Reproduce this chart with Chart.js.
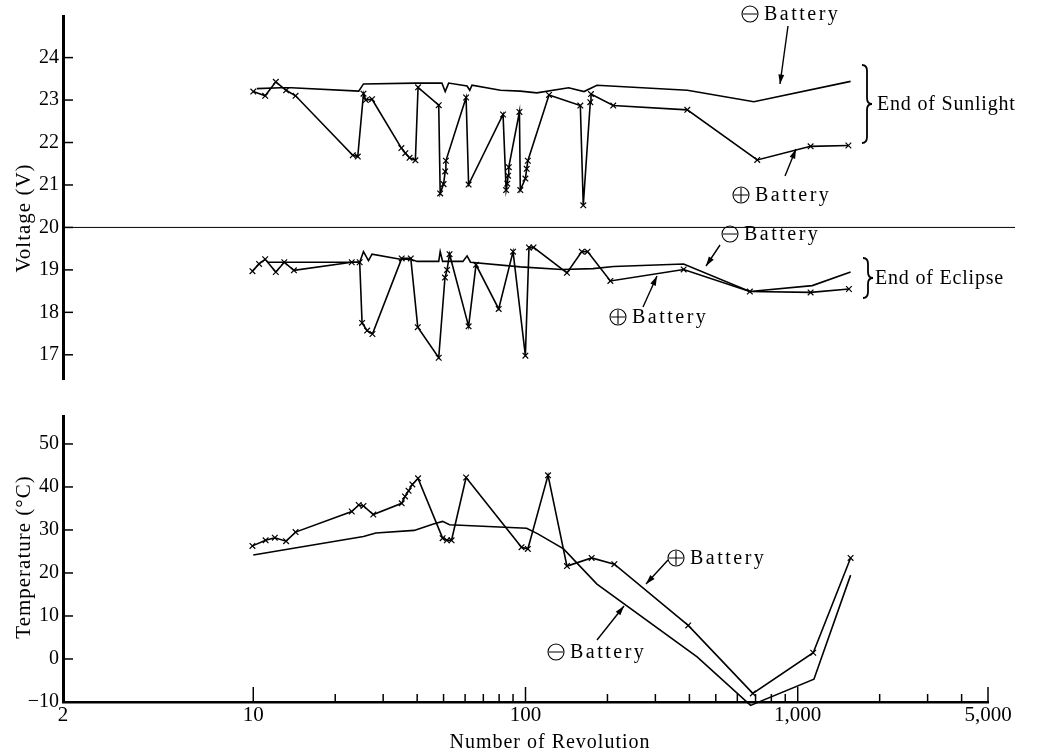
<!DOCTYPE html>
<html>
<head>
<meta charset="utf-8">
<script src="https://cdn.jsdelivr.net/npm/chart.js@4.4.1/dist/chart.umd.min.js"></script>
<style>
  body { margin: 0; background: #fff; }
  #wrap { position: relative; width: 1048px; height: 756px; }
  canvas { position: absolute; left: 0; }
  #top { top: 0; }
  #bot { top: 400px; }
</style>
</head>
<body>
<div id="wrap">
  <canvas id="top" width="1048" height="400"></canvas>
  <canvas id="bot" width="1048" height="356"></canvas>
</div>
<script>
// x axis (number of revolution, log)
const revTicks = [2, 10, 20, 30, 40, 50, 60, 70, 80, 90, 100, 200, 300, 400, 500, 600, 700, 800, 900, 1000, 2000, 3000, 4000, 5000];
const revMajor = [10, 100, 1000, 5000];
const revLabeled = [2, 10, 100, 1000, 5000];
const revLabelText = ['2', '10', '100', '1,000', '5,000'];
const voltTicks = [17, 18, 19, 20, 21, 22, 23, 24];
const tempTicks = [-10, 0, 10, 20, 30, 40, 50];

// End of Sunlight, (-) battery
const sunMinusRev = [10.3, 12.6, 13.8, 24.4, 25.4, 39.4, 49.3, 50.7, 52.2, 61, 62.4, 63.6, 80.9, 95.7, 110, 144, 164, 183, 393, 690, 1564];
const sunMinusVolt = [23.27, 23.29, 23.29, 23.21, 23.38, 23.40, 23.40, 23.20, 23.40, 23.33, 23.23, 23.35, 23.23, 23.21, 23.17, 23.29, 23.20, 23.35, 23.23, 22.96, 23.44];
// End of Sunlight, (+) battery
const sunPlusRev = [10.0, 11.06, 12.1, 13.2, 14.3, 23.2, 24.2, 25.4, 25.9, 27.3, 35.0, 36.2, 37.5, 39.4, 40.3, 48.0, 48.6, 50.0, 50.7, 51.0, 60.5, 61.8, 82.7, 84.9, 85.7, 86.3, 86.8, 95.0, 95.7, 99.9, 101, 102, 122, 159, 163, 173, 174, 210, 393, 710, 1115, 1535];
const sunPlusVolt = [23.20, 23.10, 23.43, 23.23, 23.10, 21.70, 21.67, 23.15, 23.00, 23.02, 21.87, 21.75, 21.64, 21.58, 23.30, 22.88, 20.80, 21.02, 21.32, 21.57, 23.06, 21.01, 22.66, 20.88, 21.03, 21.22, 21.42, 22.72, 20.88, 21.15, 21.38, 21.57, 23.12, 22.87, 20.52, 22.95, 23.14, 22.87, 22.77, 21.59, 21.91, 21.93];

// End of Eclipse, (-) battery
const eclMinusRev = [11.3, 23.0, 24.6, 25.4, 26.5, 27.3, 34.7, 37.9, 40.0, 48.0, 48.6, 49.6, 58.9, 61.0, 62.8, 95.7, 136, 177, 211, 381, 667, 1131, 1564];
const eclMinusVolt = [19.18, 19.18, 19.18, 19.43, 19.22, 19.37, 19.25, 19.25, 19.20, 19.20, 19.43, 19.20, 19.20, 19.33, 19.18, 19.07, 19.01, 19.03, 19.08, 19.14, 18.49, 18.63, 18.95];
// End of Eclipse, (+) battery
const eclPlusRev = [9.93, 10.5, 11.06, 12.1, 13.0, 14.1, 23.0, 24.6, 25.1, 26.2, 27.4, 35.1, 37.9, 40.2, 48.0, 50.6, 51.5, 52.6, 61.8, 65.8, 79.7, 90.0, 99.9, 103, 107, 142, 161, 169, 205, 381, 667, 1115, 1542];
const eclPlusVolt = [18.97, 19.14, 19.25, 18.95, 19.18, 18.99, 19.18, 19.18, 17.75, 17.57, 17.49, 19.27, 19.27, 17.65, 16.93, 18.82, 19.00, 19.37, 17.67, 19.12, 18.08, 19.43, 16.98, 19.53, 19.53, 18.93, 19.43, 19.43, 18.74, 19.01, 18.49, 18.47, 18.55];

// Temperature
const tempMinusRev = [10, 25.4, 28.2, 39.0, 45.9, 49.6, 52.6, 101, 111, 138, 183, 427, 671, 1147, 1564];
const tempMinusVal = [24.2, 28.5, 29.3, 29.9, 31.4, 32.0, 31.2, 30.4, 29.1, 25.6, 17.4, 0.5, -10.8, -4.7, 19.5];
const tempPlusRev = [9.93, 11.1, 12.0, 13.2, 14.3, 23.0, 24.4, 25.4, 27.6, 35.1, 36.1, 37.2, 38.4, 40.3, 49.6, 51.4, 53.5, 60.5, 96.7, 102, 121, 142, 175, 212, 396, 684, 1140, 1564];
const tempPlusVal = [26.3, 27.6, 28.2, 27.4, 29.5, 34.3, 35.8, 35.6, 33.6, 36.2, 37.8, 39.1, 40.6, 42.0, 28.1, 27.6, 27.6, 42.2, 26.0, 25.6, 42.7, 21.6, 23.5, 22.05, 7.8, -8.0, 1.45, 23.5];

const pts = (xs, ys) => xs.map((x, i) => ({ x: x, y: ys[i] }));
const serif = '"Liberation Serif", "DejaVu Serif", serif';

function lineSet(data, marks) {
    return {
        data: data,
        borderColor: '#000',
        borderWidth: 1.6,
        pointStyle: 'crossRot',
        pointRadius: marks ? 4 : 0,
        pointBorderColor: '#000',
        pointBorderWidth: 1.2,
        tension: 0,
        fill: false,
        clip: false
    };
}

// circled plus / minus sign in front of "Battery"
function drawSign(ctx, x, y, plus) {
    const r = 8;
    ctx.save();
    ctx.lineWidth = 1.1;
    ctx.beginPath();
    ctx.arc(x + r, y, r, 0, Math.PI * 2);
    ctx.moveTo(x + 1, y);
    ctx.lineTo(x + 2 * r - 1, y);
    if (plus) {
        ctx.moveTo(x + r, y - r + 1);
        ctx.lineTo(x + r, y + r - 1);
    }
    ctx.stroke();
    ctx.restore();
}

// inner tick marks, extra lines and the hand-drawn notes
const notesPlugin = {
    id: 'notes',
    afterDraw(chart, args, opts) {
        const ctx = chart.ctx;
        const ys = chart.scales.y;
        const xs = chart.scales.x;
        ctx.save();
        ctx.strokeStyle = '#000';
        ctx.fillStyle = '#000';
        ctx.lineWidth = 1.5;
        ys.ticks.forEach(t => {
            const py = ys.getPixelForValue(t.value);
            ctx.beginPath();
            ctx.moveTo(ys.right, py);
            ctx.lineTo(ys.right + 10, py);
            ctx.stroke();
        });
        if (opts.xTicks) {
            revTicks.forEach(v => {
                if (v === 2) return;
                const px = xs.getPixelForValue(v);
                const len = revMajor.includes(v) ? 15 : 8;
                ctx.beginPath();
                ctx.moveTo(px, xs.top);
                ctx.lineTo(px, xs.top - len);
                ctx.stroke();
            });
        }
        if (opts.divider !== undefined) {
            const py = ys.getPixelForValue(opts.divider);
            ctx.lineWidth = 1;
            ctx.beginPath();
            ctx.moveTo(chart.chartArea.left, py);
            ctx.lineTo(1015, py);
            ctx.stroke();
        }
        // braces
        ctx.lineWidth = 1.8;
        (opts.braces || []).forEach(b => {
            const [x, y1, y2] = b;
            const w = 10, r = 6, m = (y1 + y2) / 2, c = x + w / 2;
            ctx.beginPath();
            ctx.moveTo(x, y1);
            ctx.quadraticCurveTo(c, y1, c, y1 + r);
            ctx.lineTo(c, m - r);
            ctx.quadraticCurveTo(c, m, x + w, m);
            ctx.quadraticCurveTo(c, m, c, m + r);
            ctx.lineTo(c, y2 - r);
            ctx.quadraticCurveTo(c, y2, x, y2);
            ctx.stroke();
        });
        // arrows
        ctx.lineWidth = 1.4;
        (opts.arrows || []).forEach(a => {
            const [x1, y1, x2, y2] = a;
            const ang = Math.atan2(y2 - y1, x2 - x1);
            ctx.beginPath();
            ctx.moveTo(x1, y1);
            ctx.lineTo(x2, y2);
            ctx.stroke();
            ctx.beginPath();
            ctx.moveTo(x2, y2);
            ctx.lineTo(x2 - 10 * Math.cos(ang - 0.3), y2 - 10 * Math.sin(ang - 0.3));
            ctx.lineTo(x2 - 10 * Math.cos(ang + 0.3), y2 - 10 * Math.sin(ang + 0.3));
            ctx.closePath();
            ctx.fill();
        });
        // texts
        ctx.textBaseline = 'middle';
        (opts.texts || []).forEach(t => {
            ctx.font = '20px ' + serif;
            ctx.letterSpacing = t.sp || '0px';
            ctx.textAlign = t.align || 'left';
            let x = t.x;
            if (t.sign) {
                drawSign(ctx, x, t.y, t.sign === '+');
                x += 22;
            }
            ctx.fillText(t.t, x, t.y + 1);
        });
        ctx.letterSpacing = '0px';
        if (opts.yTitle) {
            ctx.save();
            ctx.translate(opts.yTitle.x, opts.yTitle.y);
            ctx.rotate(-Math.PI / 2);
            ctx.font = '21px ' + serif;
            ctx.letterSpacing = '1px';
            ctx.textAlign = 'center';
            ctx.fillText(opts.yTitle.t, 0, 0);
            ctx.restore();
        }
        ctx.restore();
    }
};

function yAxis(min, max, ticks) {
    return {
        type: 'linear',
        min: min,
        max: max,
        afterBuildTicks: s => { s.ticks = ticks.map(v => ({ value: v })); },
        afterFit: s => { s.width = 63; },
        grid: { display: false, drawTicks: false },
        border: { display: true, color: '#000', width: 3 },
        ticks: {
            color: '#000',
            padding: 4,
            font: { family: serif, size: 20 },
            callback: v => (v < 0 ? '\u2212' + Math.abs(v) : String(v))
        }
    };
}

const xAxisBase = {
    type: 'logarithmic',
    min: 2,
    max: 5000
};

new Chart(document.getElementById('top').getContext('2d'), {
    type: 'line',
    data: {
        datasets: [
            lineSet(pts(sunMinusRev, sunMinusVolt), false),
            lineSet(pts(sunPlusRev, sunPlusVolt), true),
            lineSet(pts(eclMinusRev, eclMinusVolt), false),
            lineSet(pts(eclPlusRev, eclPlusVolt), true)
        ]
    },
    options: {
        responsive: false,
        animation: false,
        layout: { padding: { top: 6, right: 60, bottom: 21, left: 0 } },
        scales: {
            x: Object.assign({ display: false }, xAxisBase),
            y: yAxis(16.43, 24.98, voltTicks)
        },
        plugins: {
            legend: { display: false },
            tooltip: { enabled: false },
            notes: {
                divider: 20,
                yTitle: { t: 'Voltage (V)', x: 24, y: 218 },
                braces: [[862, 65, 143], [863, 258, 298]],
                arrows: [[788, 26, 780, 84], [785, 176, 796, 149], [720, 245, 706, 266], [643, 307, 657, 276]],
                texts: [
                    { t: 'Battery', sign: '-', x: 742, y: 14, sp: '2.5px' },
                    { t: 'Battery', sign: '+', x: 733, y: 195, sp: '2.5px' },
                    { t: 'End of Sunlight', x: 877, y: 104, sp: '0.8px' },
                    { t: 'Battery', sign: '-', x: 722, y: 234, sp: '2.5px' },
                    { t: 'Battery', sign: '+', x: 610, y: 317, sp: '2.5px' },
                    { t: 'End of Eclipse', x: 875, y: 278, sp: '0.8px' }
                ]
            }
        }
    },
    plugins: [notesPlugin]
});

new Chart(document.getElementById('bot').getContext('2d'), {
    type: 'line',
    data: {
        datasets: [
            lineSet(pts(tempMinusRev, tempMinusVal), false),
            lineSet(pts(tempPlusRev, tempPlusVal), true)
        ]
    },
    options: {
        responsive: false,
        animation: false,
        layout: { padding: { top: 13, right: 60, bottom: 0, left: 0 } },
        scales: {
            x: Object.assign({
                afterBuildTicks: s => { s.ticks = revTicks.map(v => ({ value: v })); },
                afterFit: s => { s.height = 54; },
                grid: { display: false, drawTicks: false },
                border: { display: true, color: '#000', width: 2.5 },
                ticks: {
                    color: '#000',
                    padding: 1,
                    autoSkip: false,
                    maxRotation: 0,
                    font: { family: serif, size: 21 },
                    callback: v => {
                        const i = revLabeled.indexOf(v);
                        return i >= 0 ? revLabelText[i] : '';
                    }
                }
            }, xAxisBase),
            y: yAxis(-10, 56.5, tempTicks)
        },
        plugins: {
            legend: { display: false },
            tooltip: { enabled: false },
            notes: {
                xTicks: true,
                yTitle: { t: 'Temperature (\u00B0C)', x: 24, y: 157 },
                arrows: [[668, 160, 646, 184], [597, 240, 624, 206]],
                texts: [
                    { t: 'Battery', sign: '+', x: 668, y: 158, sp: '2.5px' },
                    { t: 'Battery', sign: '-', x: 548, y: 252, sp: '2.5px' },
                    { t: 'Number of Revolution', x: 550, y: 342, sp: '1px', align: 'center' }
                ]
            }
        }
    },
    plugins: [notesPlugin]
});
</script>
</body>
</html>
